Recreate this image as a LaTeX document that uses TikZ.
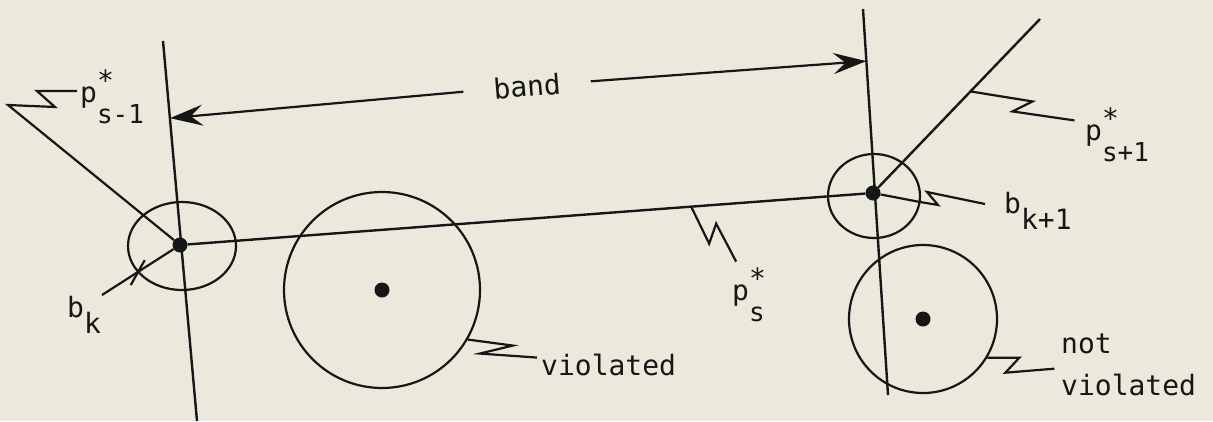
\documentclass[tikz,border=0pt]{standalone}
\usepackage{fontspec}
\setmainfont{DejaVu Sans Mono}
\usetikzlibrary{arrows.meta,shapes.geometric}
\definecolor{drPaper}{HTML}{EBE9DC}
\definecolor{drInk}{HTML}{161616}
\tikzset{
  dr paper/.style={fill=drPaper},
  dr line/.style={draw=drInk, line width=2.4pt},
  dr leader/.style={draw=drInk, line width=2.2pt, line join=miter},
  dr band/.style={
    draw=drInk,
    line width=2.2pt,
    -{Stealth[length=33pt,width=21pt,inset=12pt]}
  },
  dr ring/.style={draw=drInk, line width=2.2pt, inner sep=0pt},
  dr dot/.style={circle, fill=drInk, inner sep=0pt, minimum size=15pt},
  dr label/.style={inner sep=0pt, text=drInk, font=\fontsize{28}{42}\selectfont}
}
\newcommand{\pstar}[1]{p\makebox[0pt][l]{\raisebox{0.4em}{*}}\raisebox{-0.75em}{\fontsize{26}{26}\selectfont #1}}
\newcommand{\bsub}[1]{b\raisebox{-0.6em}{#1}}

\begin{document}
\begin{tikzpicture}[x=1pt,y=-1pt]
  \path[dr paper] (0,0) rectangle (1213,421);
  \useasboundingbox (0,0) rectangle (1213,421);

  \node[dr dot] (bk) at (180,245) {};
  \node[dr dot] (bk1) at (873,193) {};
  \node[dr dot] (cv) at (382,290) {};
  \node[dr dot] (cn) at (923,319) {};

  \node[dr ring, ellipse, minimum width=108pt, minimum height=88pt] (bk ring) at (182,246) {};
  \node[dr ring, ellipse, minimum width=92pt, minimum height=84pt] (bk1 ring) at (874,196) {};
  \node[dr ring, circle, minimum size=196pt] (cv ring) at (cv) {};
  \node[dr ring, circle, minimum size=148pt] (cn ring) at (cn) {};

  \draw[dr line] (163,41) coordinate (lt) -- (197,421) coordinate (lb)
    coordinate[pos=0.203] (ltip);
  \draw[dr line] (863,9) coordinate (rt) -- (888,395) coordinate (rb)
    coordinate[pos=0.135] (rtip);
  \draw[dr line] (bk) -- (bk1) coordinate[pos=0.743] (ps foot);
  \draw[dr line] (bk1) -- (1040,19) coordinate (ps1 end)
    coordinate[pos=0.57] (ps1 foot);

  \node[dr label, rotate=4.7, inner xsep=30pt] (band) at (527,86) {band};
  \draw[dr band] (band) -- (ltip);
  \draw[dr band] (band) -- (rtip);

  \node[dr label, anchor=base west] (psm lab) at (80,102) {\pstar{s-1}};
  \node[dr label, anchor=base west] (ps lab) at (732,300) {\pstar{s}};
  \node[dr label, anchor=base west] (psp lab) at (1085,140) {\pstar{s+1}};
  \node[dr label, anchor=base west] (bk lab) at (67,317) {\bsub{k}};
  \node[dr label, anchor=base west] (bk1 lab) at (1004,213) {\bsub{k+1}};
  \node[dr label, anchor=base west] (cv lab) at (541,375) {violated};
  \node[dr label, anchor=base west, align=left] (cn lab) at (1061,395) {not\\violated};

  \draw[dr leader] (bk) -- ++(-172,-140) -- ++(47,2) -- ++(-18,-16) -- ++(40,0);
  \draw[dr leader] (bk) -- ++(-78,50) coordinate[pos=0.5] (bk tick);
  \draw[dr leader] ([shift={(7,-12)}]bk tick) -- ([shift={(-7,13)}]bk tick);
  \draw[dr leader] (ps foot) -- ++(18,37) -- ++(7,-20) -- ++(20,38);
  \draw[dr leader] (ps1 foot) -- ++(62,10) -- ++(-20,10) -- ++(62,9);
  \draw[dr leader] (bk1) -- ++(47,9) -- ++(18,3) -- ++(-11,-13) -- ++(58,12);
  \draw[dr leader] (cv ring.-30) -- ++(45,6) -- ++(-33,8) -- ++(57,4);
  \draw[dr leader] (cn ring.-31) -- ++(32,0) -- ++(-14,15) -- ++(49,-4);
\end{tikzpicture}
\end{document}
